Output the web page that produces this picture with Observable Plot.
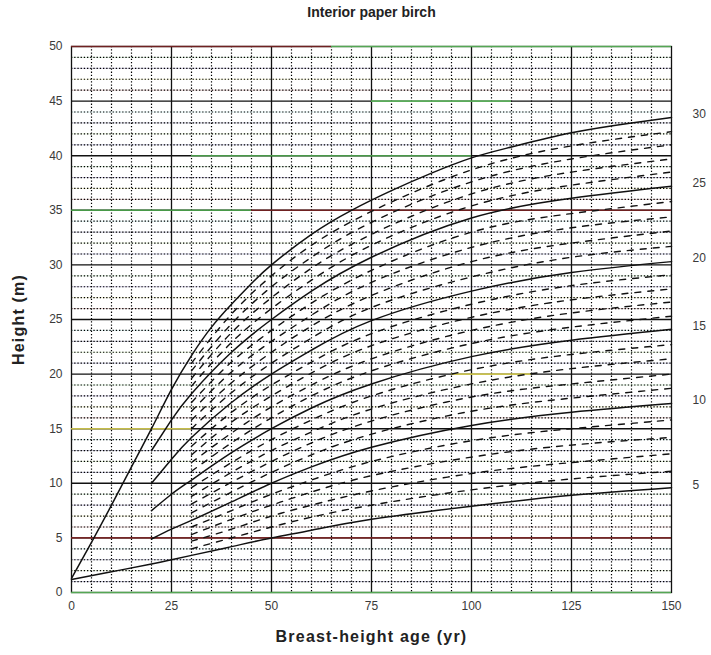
<!DOCTYPE html>
<html>
<head>
<meta charset="utf-8">
<script src="https://cdn.jsdelivr.net/npm/d3@7"></script>
<script src="https://cdn.jsdelivr.net/npm/@observablehq/plot@0.6"></script>
<style>
  html, body { margin: 0; padding: 0; background: #fff; }
  #chart svg { display: block; }
</style>
</head>
<body>
<div id="chart"></div>
<script>
// ---------- text ----------
const title = "Interior paper birch";
const xLabel = "Breast-height age (yr)";
const yLabel = "Height (m)";

// ---------- ticks / grid ----------
const xTicks = [0, 25, 50, 75, 100, 125, 150];
const yTicks = [0, 5, 10, 15, 20, 25, 30, 35, 40, 45, 50];
const majorX = [25, 50, 75, 100, 125];
const minorX = [5, 10, 15, 20, 30, 35, 40, 45, 55, 60, 65, 70, 80, 85, 90, 95, 105, 110, 115, 120, 130, 135, 140, 145];
const majorY = [5, 10, 15, 20, 25, 30, 35, 40, 45];
const minorY = [1, 2, 3, 4, 6, 7, 8, 9, 11, 12, 13, 14, 16, 17, 18, 19, 21, 22, 23, 24,
                26, 27, 28, 29, 31, 32, 33, 34, 36, 37, 38, 39, 41, 42, 43, 44, 46, 47, 48, 49];
const minorTint = ["#3a3a8a", "#a8d880", "#30306a", "#8ad0d0", "#9a4848", "#d8d870", "#5a4a9a", "#80c880"];
// coloured stretches of the major grid lines (scan tints): height, from age, to age
const tintY    = [50, 50, 45, 40, 35, 35, 20, 15, 5, 0];
const tintFrom = [0, 65, 75, 30, 0, 45, 95, 0, 0, 0];
const tintTo   = [65, 150, 110, 100, 45, 150, 115, 30, 150, 150];
const tintCol  = ["#7a2424", "#5cb85c", "#5cb85c", "#4fa84f", "#4fa84f", "#7a2424", "#d8cf50", "#d8cf50", "#7a2424", "#5cb85c"];

// ---------- solid site-index curves (SI = height at age 50) ----------
const si30Ages = [0, 5, 10, 15, 20, 25, 30, 35, 40, 45, 50, 60, 70, 80, 90, 100, 110, 125, 140, 150];
const si30H    = [1.3, 4.6, 8.0, 11.5, 15.0, 18.6, 21.7, 24.3, 26.4, 28.3, 30.0, 32.8, 35.0, 36.8, 38.4, 39.8, 40.8, 42.1, 43.0, 43.5];
const midAges  = [20, 25, 30, 40, 50, 60, 75, 100, 125, 150];
const si25H    = [13.0, 15.8, 18.2, 22.0, 25.0, 27.6, 30.7, 34.3, 36.1, 37.2];
const si20H    = [10.0, 12.2, 14.2, 17.4, 20.0, 22.2, 24.9, 27.6, 29.3, 30.3];
const si15H    = [7.5, 9.0, 10.3, 12.8, 15.0, 16.9, 19.1, 21.6, 23.1, 24.1];
const si10H    = [4.9, 5.8, 6.6, 8.3, 10.0, 11.5, 13.3, 15.3, 16.5, 17.3];
const si5Ages  = [0, 10, 20, 25, 30, 40, 50, 60, 75, 100, 125, 150];
const si5H     = [1.2, 1.9, 2.6, 3.0, 3.4, 4.2, 5.0, 5.7, 6.7, 7.9, 8.9, 9.6];

// ---------- dashed intermediate curves ----------
const dashAges = [30, 40, 50, 60, 75, 100, 125, 150];
const si6H  = [4.0, 5.0, 6, 6.9, 8.0, 9.4, 10.4, 11.1];
const si7H  = [4.7, 5.8, 7, 8.0, 9.3, 10.9, 11.9, 12.7];
const si8H  = [5.3, 6.7, 8, 9.2, 10.7, 12.4, 13.5, 14.2];
const si9H  = [6.0, 7.5, 9, 10.3, 12.0, 13.9, 15.0, 15.8];
const si11H = [7.3, 9.2, 11, 12.6, 14.5, 16.6, 17.8, 18.7];
const si12H = [8.1, 10.1, 12, 13.7, 15.7, 17.9, 19.1, 20.0];
const si13H = [8.8, 11.0, 13, 14.7, 16.8, 19.1, 20.5, 21.4];
const si14H = [9.6, 11.9, 14, 15.8, 18.0, 20.4, 21.8, 22.7];
const si16H = [11.1, 13.7, 16, 18.0, 20.3, 22.8, 24.3, 25.3];
const si17H = [11.9, 14.6, 17, 19.0, 21.4, 24.0, 25.6, 26.6];
const si18H = [12.6, 15.6, 18, 20.1, 22.6, 25.2, 26.8, 27.8];
const si19H = [13.4, 16.5, 19, 21.1, 23.7, 26.4, 28.1, 29.1];
const si21H = [15.0, 18.3, 21, 23.3, 26.1, 28.9, 30.7, 31.7];
const si22H = [15.8, 19.2, 22, 24.4, 27.2, 30.3, 32.0, 33.1];
const si23H = [16.6, 20.2, 23, 25.4, 28.4, 31.6, 33.4, 34.4];
const si24H = [17.4, 21.1, 24, 26.5, 29.5, 33.0, 34.7, 35.8];
const si26H = [18.9, 22.9, 26, 28.6, 31.8, 35.4, 37.3, 38.5];
const si27H = [19.6, 23.8, 27, 29.7, 32.8, 36.5, 38.5, 39.7];
const si28H = [20.3, 24.6, 28, 30.7, 33.9, 37.6, 39.7, 41.0];
const si29H = [21.0, 25.5, 29, 31.8, 34.9, 38.7, 40.9, 42.2];

// ---------- build tables ----------
function rows(si, ages, hs) { return ages.map((a, i) => ({si, age: a, h: hs[i]})); }
const solid = [
  ...rows(30, si30Ages, si30H), ...rows(25, midAges, si25H), ...rows(20, midAges, si20H),
  ...rows(15, midAges, si15H), ...rows(10, midAges, si10H), ...rows(5, si5Ages, si5H)
];
const dashed = [
  [6, si6H], [7, si7H], [8, si8H], [9, si9H], [11, si11H], [12, si12H], [13, si13H], [14, si14H],
  [16, si16H], [17, si17H], [18, si18H], [19, si19H], [21, si21H], [22, si22H], [23, si23H], [24, si24H],
  [26, si26H], [27, si27H], [28, si28H], [29, si29H]
].flatMap(([s, hs]) => rows(s, dashAges, hs));
// curve ends at the last age, used to place the site-index labels on the right
const ends = d3.groups(solid, d => d.si).map(([si, rs]) => rs[rs.length - 1]);
const minorRows = minorY.map((v, i) => ({v, c: minorTint[i % minorTint.length]}));
const tints = tintY.map((y, i) => ({y, a0: tintFrom[i], a1: tintTo[i], c: tintCol[i]}));

const chart = Plot.plot({
  width: 711,
  height: 655,
  marginLeft: 71,
  marginRight: 40,
  marginTop: 46,
  marginBottom: 63,
  x: {domain: [0, 150]},
  y: {domain: [0, 50]},
  style: {fontFamily: "'Liberation Sans', Arial, sans-serif", fontSize: "12px", background: "#fff", color: "#3a3a3a"},
  marks: [
    Plot.ruleY(minorRows, {y: "v", stroke: "c", strokeOpacity: 0.3, strokeWidth: 1}),
    Plot.ruleY(minorY, {stroke: "#000", strokeWidth: 1.2, strokeDasharray: "1.3,1.9"}),
    Plot.ruleX(minorX, {stroke: "#000", strokeWidth: 1.2, strokeDasharray: "1.3,1.9"}),
    Plot.ruleX(majorX, {stroke: "#111", strokeWidth: 1.3}),
    Plot.ruleY(majorY, {stroke: "#111", strokeWidth: 1.4}),
    Plot.frame({stroke: "#111", strokeWidth: 1.3}),
    Plot.ruleY(tints, {y: "y", x1: "a0", x2: "a1", stroke: "c", strokeWidth: 1.6, strokeOpacity: 0.9}),
    Plot.line(dashed, {x: "age", y: "h", z: "si", curve: "natural", stroke: "#111", strokeWidth: 1.4, strokeDasharray: "6,7"}),
    Plot.line(solid, {x: "age", y: "h", z: "si", curve: "natural", stroke: "#111", strokeWidth: 1.5}),
    Plot.text(ends, {x: "age", y: "h", text: d => String(d.si), dx: 21, dy: -3, textAnchor: "start", lineAnchor: "middle", fontSize: 12, fill: "#3a3a3a"}),
    Plot.axisX(xTicks, {tickSize: 0, tickPadding: 9, label: null, fontSize: 12}),
    Plot.axisY(yTicks, {tickSize: 0, tickPadding: 9, label: null, fontSize: 12}),
    Plot.text([title], {frameAnchor: "top", dy: -34, lineAnchor: "middle", textAnchor: "middle", fontSize: 14, fontWeight: 600, fill: "#222"}),
    Plot.text([xLabel], {frameAnchor: "bottom", dy: 44, lineAnchor: "middle", textAnchor: "middle", fontSize: 16, fontWeight: "bold", fill: "#222", className: "spaced"}),
    Plot.text([yLabel], {frameAnchor: "left", dx: -53, rotate: -90, lineAnchor: "middle", textAnchor: "middle", fontSize: 16, fontWeight: "bold", fill: "#222", className: "spaced"})
  ]
});
d3.select(chart).selectAll(".spaced text").style("letter-spacing", "1.2px");
document.getElementById("chart").appendChild(chart);
</script>
</body>
</html>
